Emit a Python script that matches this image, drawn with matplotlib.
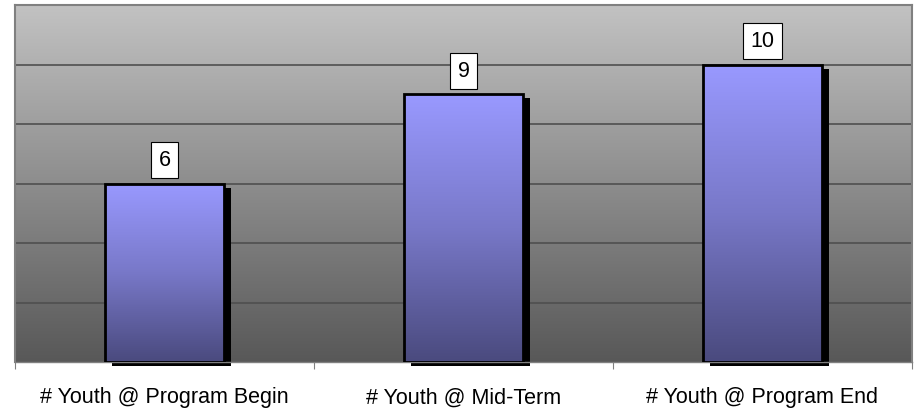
import matplotlib.pyplot as plt
import numpy as np
from matplotlib.colors import LinearSegmentedColormap
from matplotlib.patches import Rectangle
from matplotlib.transforms import ScaledTranslation

# Chart data
categories = ["# Youth @ Program Begin", "# Youth @ Mid-Term", "# Youth @ Program End"]
values = [6, 9, 10]

plt.rcParams["font.family"] = ["Liberation Sans", "DejaVu Sans"]

fig = plt.figure(figsize=(9.21, 4.14), dpi=100)
ax = fig.add_axes([15 / 921, 51 / 414, 897 / 921, 357 / 414])

ymax = 12
ax.set_xlim(-0.5, len(categories) - 0.5)
ax.set_ylim(0, ymax)

# background gradient (light gray top -> dark gray bottom)
bg_cmap = LinearSegmentedColormap.from_list("bg", ["#585858", "#c2c2c2"])
grad = np.linspace(0, 1, 256).reshape(-1, 1)
ax.imshow(grad, cmap=bg_cmap, origin="lower", aspect="auto",
          extent=(-0.5, len(categories) - 0.5, 0, ymax), zorder=0)

# gridlines
for y in range(2, ymax, 2):
    ax.axhline(y, color="#4f4f4f", linewidth=1.2, zorder=1)

# bars with shadow + vertical gradient
bar_cmap = LinearSegmentedColormap.from_list("bar", ["#4a4a7e", "#7878c8", "#9999ff"])
width = 0.4
shadow = ax.transData + ScaledTranslation(7 / 100, -4 / 100, fig.dpi_scale_trans)
for i, v in enumerate(values):
    x0 = i - width / 2
    ax.add_patch(Rectangle((x0, 0), width, v, facecolor="black", edgecolor="none",
                           transform=shadow, zorder=2, clip_on=False))
    img = ax.imshow(grad, cmap=bar_cmap, origin="lower", aspect="auto",
                    extent=(x0, x0 + width, 0, v), zorder=3)
    rect = Rectangle((x0, 0), width, v, facecolor="none", edgecolor="black",
                     linewidth=2, zorder=4)
    ax.add_patch(rect)
    img.set_clip_path(rect)
    ax.annotate(str(v), xy=(i, v), xytext=(0, 17), textcoords="offset points",
                ha="center", va="center", fontsize=15.5, zorder=5,
                bbox=dict(boxstyle="square,pad=0.35", facecolor="white",
                          edgecolor="black", linewidth=0.8))

ax.set_xlim(-0.5, len(categories) - 0.5)
ax.set_ylim(0, ymax)

# axes styling
for side in ["top", "right", "left"]:
    ax.spines[side].set_color("#808080")
    ax.spines[side].set_linewidth(1.5)
ax.spines["bottom"].set_color("#808080")
ax.spines["bottom"].set_linewidth(1)
ax.set_yticks([])
ax.set_xticks(np.arange(-0.5, len(categories), 1))
ax.set_xticklabels([])
ax.tick_params(axis="x", length=5, color="#808080", direction="out")

# category labels, aligned on a common baseline
for i, label in enumerate(categories):
    ax.annotate(label, xy=(i, 0), xycoords=("data", "axes fraction"),
                xytext=(0, -29), textcoords="offset points",
                ha="center", va="baseline", fontsize=15.5)

fig.savefig("out.png", dpi=100, facecolor="white")
